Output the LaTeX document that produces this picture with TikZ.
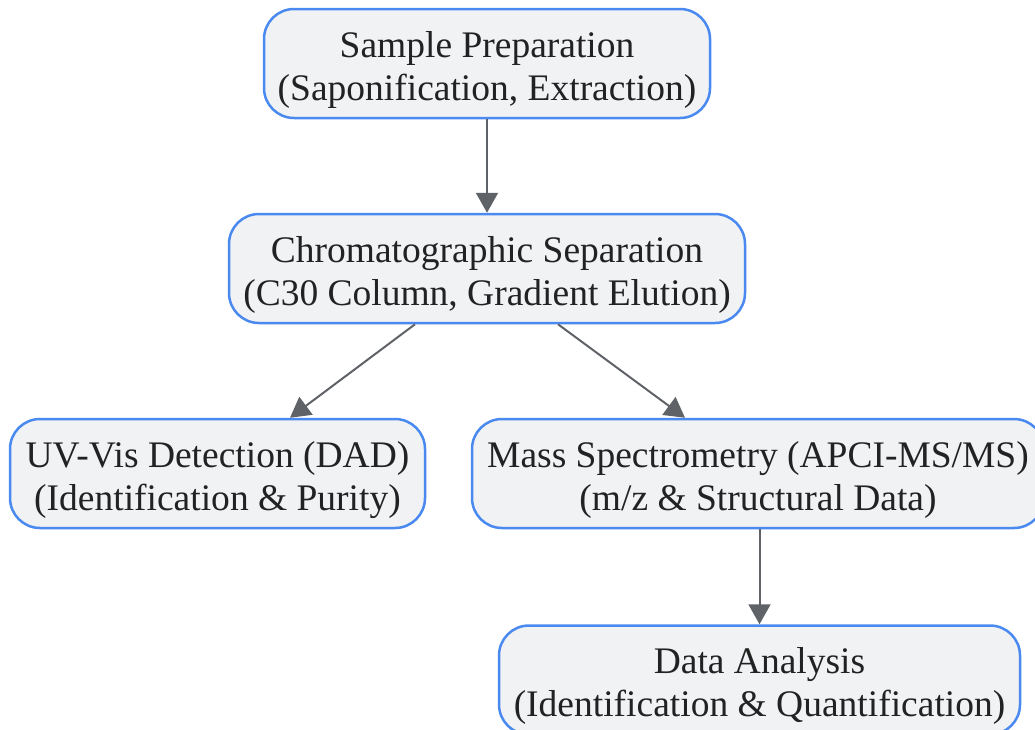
\documentclass[tikz,border=0pt]{standalone}
\usepackage{fontspec}
\setmainfont{Liberation Serif}
\usetikzlibrary{arrows.meta}
\definecolor{boxfill}{HTML}{F1F2F4}
\definecolor{boxline}{HTML}{4A8AF0}
\definecolor{arrowc}{HTML}{5F6368}
\definecolor{txt}{HTML}{222222}
\newcommand{\topstrut}{\rule{0pt}{38.5pt}}
\begin{document}
\begin{tikzpicture}[x=1pt,y=1pt,
  box/.style={draw=boxline, fill=boxfill, line width=2.5pt, rounded corners=30pt,
    minimum height=109pt, inner sep=0pt, align=center, text=txt,
    font=\fontsize{37.5}{43}\selectfont},
  conn/.style={draw=arrowc, line width=2pt, -{Triangle[length=20pt,width=22pt]}}]
\useasboundingbox (0,0) rectangle (1035,-729);
\node[box, minimum width=446pt] (b1) at (487,-63.5) {\topstrut Sample Preparation\\(Saponification, Extraction)};
\node[box, minimum width=516pt] (b2) at (487,-268.5) {\topstrut Chromatographic Separation\\(C30 Column, Gradient Elution)};
\node[box, minimum width=415pt] (b3) at (217.5,-473.5) {\topstrut UV-Vis Detection (DAD)\\(Identification \& Purity)};
\node[box, minimum width=572pt] (b4) at (758,-473.5) {\topstrut Mass Spectrometry (APCI-MS/MS)\\(m/z \& Structural Data)};
\node[box, minimum width=521pt] (b5) at (759.5,-680) {\topstrut Data Analysis\\(Identification \& Quantification)};
\draw[conn] (b1.south) -- (b2.north);
\draw[conn] ([xshift=-72pt]b2.south) -- ([xshift=72.5pt]b3.north);
\draw[conn] ([xshift=71pt]b2.south) -- ([xshift=-73pt]b4.north);
\draw[conn] (b4.south -| b5.north) -- (b5.north);
\end{tikzpicture}
\end{document}
